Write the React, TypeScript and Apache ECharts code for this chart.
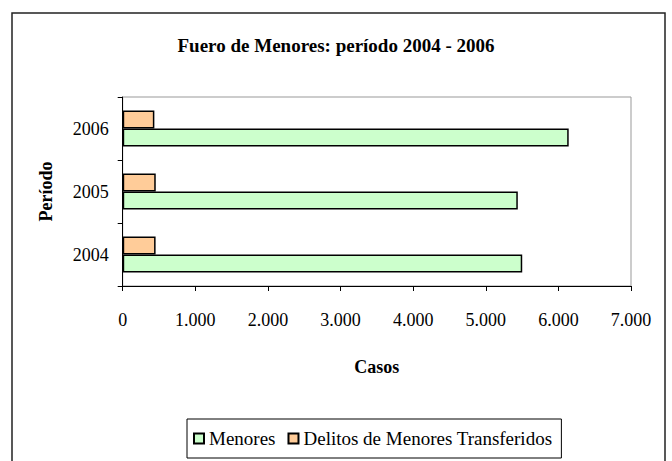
import React, { useEffect, useRef } from "react";
import * as echarts from "echarts";

const categories = ["2004", "2005", "2006"];
const menores = [5502, 5441, 6142];
const delitosTransferidos = [453, 455, 436];
const seriesNames = ["Menores", "Delitos de Menores Transferidos"];
const titleText = "Fuero de Menores: período 2004 - 2006";
const xAxisName = "Casos";
const yAxisName = "Período";

const FONT = "'Liberation Serif', 'Times New Roman', serif";

function fmt(v: number): string {
  return String(v).replace(/\B(?=(\d{3})+(?!\d))/g, ".");
}

export default function App() {
  const ref = useRef<HTMLDivElement>(null);
  useEffect(() => {
    if (!ref.current) return;
    const chart = echarts.init(ref.current, undefined, { renderer: "svg" });
    chart.setOption({
      animation: false,
      backgroundColor: "#ffffff",
      title: {
        text: titleText,
        left: "center",
        top: 31,
        textStyle: { fontFamily: FONT, fontSize: 19, fontWeight: "bold", color: "#000" },
      },
      graphic: [
        {
          type: "rect",
          shape: { x: 12, y: 13, width: 653, height: 470 },
          style: { fill: "none", stroke: "#222", lineWidth: 1.5 },
          silent: true,
        },
      ],
      grid: {
        left: 122.7,
        top: 97,
        width: 508.3,
        height: 189,
        show: true,
        borderColor: "#999",
        borderWidth: 1,
        backgroundColor: "transparent",
      },
      legend: {
        data: seriesNames,
        left: 187,
        top: 419,
        padding: [10, 9, 10, 6],
        itemGap: 12,
        itemWidth: 10,
        itemHeight: 10,
        icon: "rect",
        borderColor: "#000",
        borderWidth: 1,
        textStyle: { fontFamily: FONT, fontSize: 19, color: "#000" },
      },
      xAxis: {
        type: "value",
        min: 0,
        max: 7000,
        interval: 1000,
        name: xAxisName,
        nameLocation: "middle",
        nameGap: 72,
        nameTextStyle: { fontFamily: FONT, fontSize: 18, fontWeight: "bold", color: "#000" },
        axisLine: { show: true, lineStyle: { color: "#000", width: 1 } },
        axisTick: { show: true, length: 5, lineStyle: { color: "#000" } },
        axisLabel: {
          margin: 25,
          formatter: (v: number) => fmt(v),
          fontFamily: FONT,
          fontSize: 18,
          color: "#000",
        },
        splitLine: { show: false },
      },
      yAxis: {
        type: "category",
        data: categories,
        name: yAxisName,
        nameLocation: "middle",
        nameGap: 68,
        nameRotate: 90,
        nameTextStyle: { fontFamily: FONT, fontSize: 18, fontWeight: "bold", color: "#000" },
        axisLine: { show: true, lineStyle: { color: "#000", width: 1 } },
        axisTick: { show: true, length: 5, lineStyle: { color: "#000" } },
        axisLabel: { margin: 14, fontFamily: FONT, fontSize: 18, color: "#000" },
        splitLine: { show: false },
      },
      series: [
        {
          name: seriesNames[1],
          type: "bar",
          data: delitosTransferidos,
          barWidth: 18,
          barGap: "0%",
          itemStyle: { color: "#FFCC99", borderColor: "#000", borderWidth: 1.5 },
        },
        {
          name: seriesNames[0],
          type: "bar",
          data: menores,
          barWidth: 18,
          barGap: "0%",
          itemStyle: { color: "#CCFFCC", borderColor: "#000", borderWidth: 1.5 },
        },
      ],
    });
    return () => chart.dispose();
  }, []);
  return (
    <div
      ref={ref}
      style={{ position: "absolute", left: 0, top: 0, width: 672, height: 461 }}
    />
  );
}
